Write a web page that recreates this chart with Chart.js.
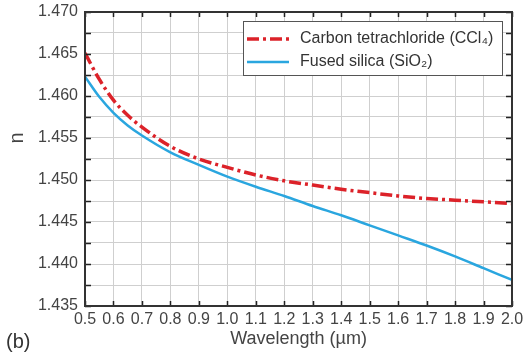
<!DOCTYPE html>
<html lang="en">
<head>
    <meta charset="UTF-8">
    <title>Refractive index vs wavelength</title>
    <script src="https://cdn.jsdelivr.net/npm/chart.js"></script>
    <style>
        html, body { margin: 0; padding: 0; background: #fff; }
        #box { width: 523px; height: 360px; position: relative; }
    </style>
</head>
<body>
    <div id="box">
        <canvas id="myChart"></canvas>
    </div>

<script>
// wavelength in micrometres
const wavelength = [0.5, 0.55, 0.6, 0.65, 0.7, 0.8, 0.9, 1.0, 1.1, 1.2, 1.3, 1.4, 1.5, 1.6, 1.7, 1.8, 1.9, 2.0];

// refractive index n
const ccl4   = [1.4651, 1.4620, 1.4595, 1.4577, 1.4563, 1.4540, 1.4525, 1.4515, 1.4506, 1.4499, 1.4494, 1.4489, 1.4485, 1.4481, 1.4478, 1.4476, 1.4474, 1.4472];
const silica = [1.4623, 1.4599, 1.4580, 1.4565, 1.4553, 1.4533, 1.4518, 1.4504, 1.4492, 1.4481, 1.4469, 1.4458, 1.4446, 1.4434, 1.4422, 1.4409, 1.4395, 1.4381];

const seriesNames = ['Carbon tetrachloride (CCl\u2084)', 'Fused silica (SiO\u2082)'];

const RED = '#dc2229';
const BLUE = '#2aa6df';
const FONT = '"Liberation Sans", Arial, sans-serif';

function toPoints(ys) {
    return wavelength.map(function (x, i) { return { x: x, y: ys[i] }; });
}

// frame, inward ticks, legend box, "n" label and panel letter
const extras = {
    id: 'extras',
    afterDraw(chart) {
        const ctx = chart.ctx;
        const a = chart.chartArea;
        const xs = chart.scales.x;
        const ys = chart.scales.y;
        ctx.save();

        // inward tick marks on all four sides
        ctx.strokeStyle = '#222';
        ctx.lineWidth = 1.5;
        ctx.beginPath();
        xs.ticks.forEach(function (t) {
            const px = Math.round(xs.getPixelForValue(t.value)) + 0.5;
            ctx.moveTo(px, a.bottom); ctx.lineTo(px, a.bottom - 5);
            ctx.moveTo(px, a.top); ctx.lineTo(px, a.top + 5);
        });
        ys.ticks.forEach(function (t) {
            const py = Math.round(ys.getPixelForValue(t.value)) + 0.5;
            ctx.moveTo(a.left, py); ctx.lineTo(a.left + 6, py);
            ctx.moveTo(a.right, py); ctx.lineTo(a.right - 6, py);
        });
        ctx.stroke();

        // frame
        ctx.lineWidth = 2;
        ctx.strokeStyle = '#333';
        ctx.strokeRect(a.left, a.top, a.right - a.left, a.bottom - a.top);

        // legend
        const lx = 243, ly = 21, lw = 259, lh = 54;
        ctx.fillStyle = '#fff';
        ctx.fillRect(lx, ly, lw, lh);
        ctx.lineWidth = 1;
        ctx.strokeStyle = '#555';
        ctx.strokeRect(lx + 0.5, ly + 0.5, lw, lh);

        const rows = [
            { y: 39, color: RED, width: 3.5, dash: [12, 4, 3, 4] },
            { y: 62, color: BLUE, width: 2.5, dash: [] }
        ];
        ctx.font = '16px ' + FONT;
        ctx.textBaseline = 'middle';
        ctx.textAlign = 'left';
        rows.forEach(function (r, i) {
            ctx.beginPath();
            ctx.setLineDash(r.dash);
            ctx.strokeStyle = r.color;
            ctx.lineWidth = r.width;
            ctx.moveTo(247, r.y);
            ctx.lineTo(289, r.y);
            ctx.stroke();
            ctx.setLineDash([]);
            ctx.fillStyle = '#333';
            ctx.fillText(seriesNames[i], 300, r.y);
        });

        // y axis name, rotated
        ctx.save();
        ctx.translate(17, 138);
        ctx.rotate(-Math.PI / 2);
        ctx.font = '20px ' + FONT;
        ctx.fillStyle = '#444';
        ctx.textAlign = 'center';
        ctx.textBaseline = 'middle';
        ctx.fillText('n', 0, 0);
        ctx.restore();

        // panel letter
        ctx.font = '20px ' + FONT;
        ctx.fillStyle = '#333';
        ctx.textAlign = 'left';
        ctx.textBaseline = 'alphabetic';
        ctx.fillText('(b)', 6, 348);
        ctx.restore();
    }
};

const config = {
    type: 'line',
    data: {
        datasets: [
            {
                label: seriesNames[0],
                data: toPoints(ccl4),
                borderColor: RED,
                borderWidth: 3.5,
                borderDash: [12, 4, 3, 4],
                pointRadius: 0,
                cubicInterpolationMode: 'monotone',
                fill: false
            },
            {
                label: seriesNames[1],
                data: toPoints(silica),
                borderColor: BLUE,
                borderWidth: 2.5,
                pointRadius: 0,
                cubicInterpolationMode: 'monotone',
                fill: false
            }
        ]
    },
    options: {
        responsive: true,
        maintainAspectRatio: false,
        animation: false,
        layout: { padding: { top: 12, right: 11, left: 0, bottom: 0 } },
        plugins: {
            legend: { display: false },
            tooltip: { enabled: false }
        },
        scales: {
            x: {
                type: 'linear',
                min: 0.5,
                max: 2.0,
                border: { display: false },
                grid: { color: '#cfcfcf', lineWidth: 1, drawTicks: false },
                ticks: {
                    stepSize: 0.1,
                    autoSkip: false,
                    maxRotation: 0,
                    padding: 4,
                    color: '#444',
                    font: { family: FONT, size: 16 },
                    callback: function (v) { return v.toFixed(1); }
                },
                title: {
                    display: true,
                    text: 'Wavelength (\u00b5m)',
                    color: '#444',
                    font: { family: FONT, size: 18 },
                    padding: 10
                },
                afterFit: function (s) {
                    s.height = 54;
                    s.paddingLeft = 0;
                    s.paddingRight = 0;
                }
            },
            y: {
                min: 1.435,
                max: 1.470,
                border: { display: false },
                grid: { color: '#cfcfcf', lineWidth: 1, drawTicks: false },
                ticks: {
                    stepSize: 0.0025,
                    autoSkip: false,
                    padding: 7,
                    color: '#444',
                    font: { family: FONT, size: 16 },
                    callback: function (v) {
                        return Math.round(v * 10000) % 50 === 0 ? v.toFixed(3) : '';
                    }
                },
                afterFit: function (s) {
                    s.width = 85;
                    s.paddingTop = 0;
                    s.paddingBottom = 0;
                }
            }
        }
    },
    plugins: [extras]
};

const myChart = new Chart(document.getElementById('myChart'), config);
</script>
</body>
</html>
